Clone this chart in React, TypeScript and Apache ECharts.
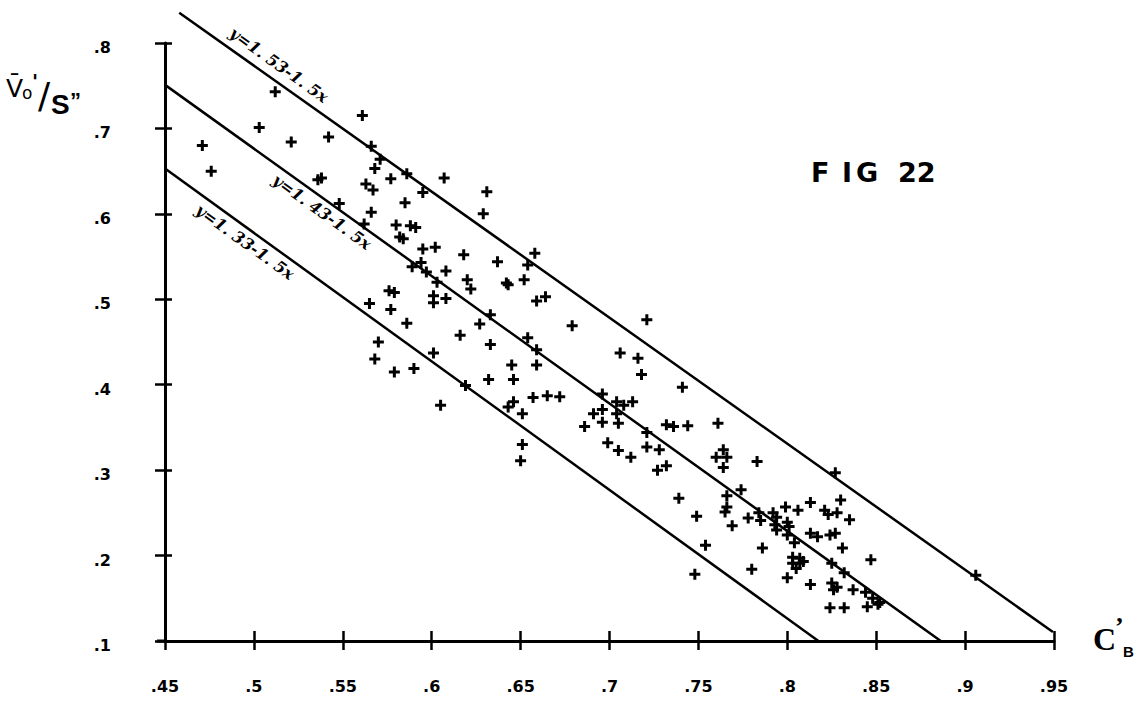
import React, { useEffect, useRef } from "react";
import * as echarts from "echarts";

// ---- data ----
const pointsUpperLeft: [number, number][] = [
  [0.471, 0.68], [0.476, 0.65], [0.512, 0.743], [0.503, 0.701], [0.521, 0.684], [0.542, 0.69],
  [0.561, 0.715], [0.536, 0.64], [0.538, 0.642], [0.566, 0.679], [0.571, 0.664], [0.568, 0.653],
  [0.577, 0.641], [0.563, 0.635], [0.567, 0.628], [0.566, 0.602], [0.548, 0.612], [0.562, 0.588],
  [0.58, 0.587],
];
const pointsMidLeft: [number, number][] = [
  [0.586, 0.647], [0.607, 0.642], [0.595, 0.625], [0.585, 0.613], [0.631, 0.626], [0.629, 0.6],
  [0.588, 0.586], [0.591, 0.584], [0.582, 0.573], [0.584, 0.571], [0.595, 0.559], [0.602, 0.561],
  [0.618, 0.552], [0.637, 0.544], [0.658, 0.554], [0.654, 0.54], [0.594, 0.543], [0.589, 0.538],
  [0.597, 0.532], [0.603, 0.52], [0.608, 0.533], [0.601, 0.504], [0.601, 0.496], [0.608, 0.501],
  [0.576, 0.51], [0.579, 0.508], [0.565, 0.495], [0.577, 0.488], [0.586, 0.472], [0.57, 0.45],
  [0.568, 0.43], [0.579, 0.415], [0.59, 0.419], [0.601, 0.437], [0.619, 0.399], [0.605, 0.376],
  [0.632, 0.406], [0.616, 0.458], [0.627, 0.471], [0.633, 0.447], [0.633, 0.482], [0.62, 0.523],
  [0.622, 0.512],
];
const pointsCenter: [number, number][] = [
  [0.642, 0.519], [0.643, 0.517], [0.652, 0.523], [0.659, 0.498], [0.664, 0.503], [0.654, 0.455],
  [0.659, 0.441], [0.659, 0.423], [0.645, 0.423], [0.646, 0.406], [0.657, 0.385], [0.665, 0.387],
  [0.672, 0.386], [0.646, 0.38], [0.643, 0.374], [0.651, 0.366], [0.679, 0.469], [0.721, 0.476],
  [0.706, 0.437], [0.716, 0.431], [0.718, 0.412], [0.741, 0.397], [0.696, 0.389], [0.704, 0.38],
  [0.708, 0.376], [0.713, 0.38], [0.691, 0.366], [0.696, 0.371], [0.696, 0.356], [0.705, 0.355],
  [0.704, 0.366], [0.686, 0.351], [0.732, 0.353], [0.736, 0.351], [0.744, 0.352], [0.761, 0.355],
  [0.721, 0.344], [0.721, 0.327], [0.728, 0.324], [0.699, 0.332], [0.705, 0.323], [0.712, 0.315],
  [0.727, 0.3], [0.732, 0.305], [0.651, 0.33], [0.65, 0.311], [0.764, 0.324], [0.76, 0.315],
  [0.766, 0.315], [0.764, 0.303], [0.774, 0.277], [0.766, 0.27], [0.739, 0.267],
];
const pointsLowerRight: [number, number][] = [
  [0.783, 0.31], [0.827, 0.297], [0.766, 0.257], [0.765, 0.251], [0.754, 0.212], [0.769, 0.235],
  [0.778, 0.244], [0.784, 0.25], [0.785, 0.241], [0.792, 0.25], [0.794, 0.245], [0.793, 0.236],
  [0.799, 0.257], [0.8, 0.239], [0.794, 0.23], [0.8, 0.224], [0.801, 0.234], [0.806, 0.253],
  [0.813, 0.262], [0.83, 0.265], [0.821, 0.253], [0.823, 0.248], [0.828, 0.25], [0.835, 0.242],
  [0.813, 0.226], [0.817, 0.222], [0.824, 0.224], [0.827, 0.226], [0.804, 0.215], [0.786, 0.209],
  [0.831, 0.209], [0.803, 0.198], [0.807, 0.197], [0.803, 0.191], [0.807, 0.191], [0.809, 0.193],
  [0.805, 0.185], [0.847, 0.195], [0.825, 0.191], [0.832, 0.18], [0.78, 0.184], [0.8, 0.174],
  [0.813, 0.166], [0.825, 0.168], [0.826, 0.16], [0.828, 0.163], [0.837, 0.16], [0.844, 0.157],
  [0.848, 0.15], [0.852, 0.145], [0.845, 0.14], [0.824, 0.139], [0.832, 0.139], [0.851, 0.143],
  [0.906, 0.177], [0.749, 0.246], [0.748, 0.178],
];

// three parallel reference lines (end points)
const lineStarts: [number, number][] = [[0.458, 0.8355], [0.45, 0.751], [0.45, 0.653]];
const lineEnds: [number, number][] = [[0.9494, 0.1105], [0.8863, 0.1], [0.8175, 0.1]];
const lineLabels = ["y=1. 53-1. 5x", "y=1. 43-1. 5x", "y=1. 33-1. 5x"];

const xMin = 0.45, xMax = 0.95, xStep = 0.05;
const yMin = 0.1, yMax = 0.8, yStep = 0.1;

const title = ["F", "I", "G", "22"];

export default function App() {
  const ref = useRef<HTMLDivElement>(null);
  useEffect(() => {
    const chart = echarts.init(ref.current!, null, { renderer: "svg" });
    const plus = "path://M4,0H7V4H11V7H7V11H4V7H0V4H4Z";
    const fmt = (v: number) => String(Number(v.toFixed(2))).replace(/^0/, "");
    const tickFont = { color: "#000", fontFamily: "DejaVu Sans", fontWeight: "bold" as const, fontSize: 16 };
    const blk = "#000";
    const points = [...pointsUpperLeft, ...pointsMidLeft, ...pointsCenter, ...pointsLowerRight];

    const lineSeries = lineStarts.map((s, i) => ({
      type: "line",
      data: [s, lineEnds[i]],
      symbol: "none",
      clip: false,
      silent: true,
      lineStyle: { color: blk, width: 2.5 },
      z: 3,
    }));

    const labelPos: [number, number][] = [[279, 65], [322, 212], [245, 242]];
    const titleX = [811, 842, 856, 898];

    const txt = (text: string, x: number, y: number, font: string) => ({
      type: "text",
      x,
      y,
      style: { text, fill: blk, font, align: "left", verticalAlign: "middle" },
    });

    chart.setOption({
      animation: false,
      backgroundColor: "#fff",
      grid: { left: 165, right: 86, top: 43, bottom: 61 },
      xAxis: [
        {
          type: "value", min: xMin, max: xMax, interval: xStep, position: "bottom",
          axisLine: { show: true, onZero: false, lineStyle: { color: blk, width: 3 } },
          axisTick: { show: true, length: 9, lineStyle: { color: blk, width: 2.5 } },
          axisLabel: { ...tickFont, formatter: fmt, margin: 37 },
          splitLine: { show: false },
        },
        {
          type: "value", min: xMin, max: xMax, interval: xStep, position: "bottom",
          axisLine: { show: false, onZero: false },
          axisTick: { show: true, inside: true, length: 10, lineStyle: { color: blk, width: 2.5 } },
          axisLabel: { show: false },
          splitLine: { show: false },
        },
      ],
      yAxis: [
        {
          type: "value", min: yMin, max: yMax, interval: yStep, position: "left",
          axisLine: { show: true, onZero: false, lineStyle: { color: blk, width: 3 } },
          axisTick: { show: true, length: 10, lineStyle: { color: blk, width: 2.5 } },
          axisLabel: { ...tickFont, formatter: fmt, margin: 54, verticalAlign: "top", lineHeight: 9 },
          splitLine: { show: false },
        },
        {
          type: "value", min: yMin, max: yMax, interval: yStep, position: "left",
          axisLine: { show: false, onZero: false },
          axisTick: { show: true, inside: true, length: 7, lineStyle: { color: blk, width: 2.5 } },
          axisLabel: { show: false },
          splitLine: { show: false },
        },
      ],
      series: [
        ...lineSeries,
        {
          type: "scatter",
          data: points,
          symbol: plus,
          symbolSize: 11,
          itemStyle: { color: blk, opacity: 1 },
          z: 4,
        },
      ],
      graphic: [
        // stub of x axis left of the y axis
        { type: "line", shape: { x1: 157, y1: 641, x2: 166, y2: 641 }, style: { stroke: blk, lineWidth: 3 } },
        ...lineLabels.map((t, i) => ({
          type: "text",
          x: labelPos[i][0],
          y: labelPos[i][1],
          rotation: -0.62,
          style: { text: t, fill: blk, font: 'italic bold 16px "DejaVu Serif"', align: "center", verticalAlign: "middle" },
        })),
        ...title.map((t, i) => txt(t, titleX[i], 172, 'bold 27px "DejaVu Sans"')),
        // y-axis name  V̄o' / S"
        txt("V\u0304", 6, 88, '25px "DejaVu Sans"'),
        txt("o", 22, 93, '17px "DejaVu Sans"'),
        txt("'", 32, 81, 'bold 20px "DejaVu Sans"'),
        txt("/", 38, 95, '36px "DejaVu Sans"'),
        txt("S", 51, 104, 'bold 28px "Liberation Sans"'),
        txt("\u201D", 70, 100, 'bold 22px "Liberation Sans"'),
        // x-axis name  C'B
        txt("C", 1093, 639, 'bold 32px "Liberation Serif"'),
        txt("\u2019", 1115, 626, 'bold 26px "Liberation Serif"'),
        txt("B", 1123, 651, 'bold 15px "Liberation Sans"'),
      ],
    });
    return () => chart.dispose();
  }, []);
  return (
    <div
      ref={ref}
      style={{ position: "fixed", left: 0, top: 0, width: 1140, height: 702, background: "#fff" }}
    />
  );
}
